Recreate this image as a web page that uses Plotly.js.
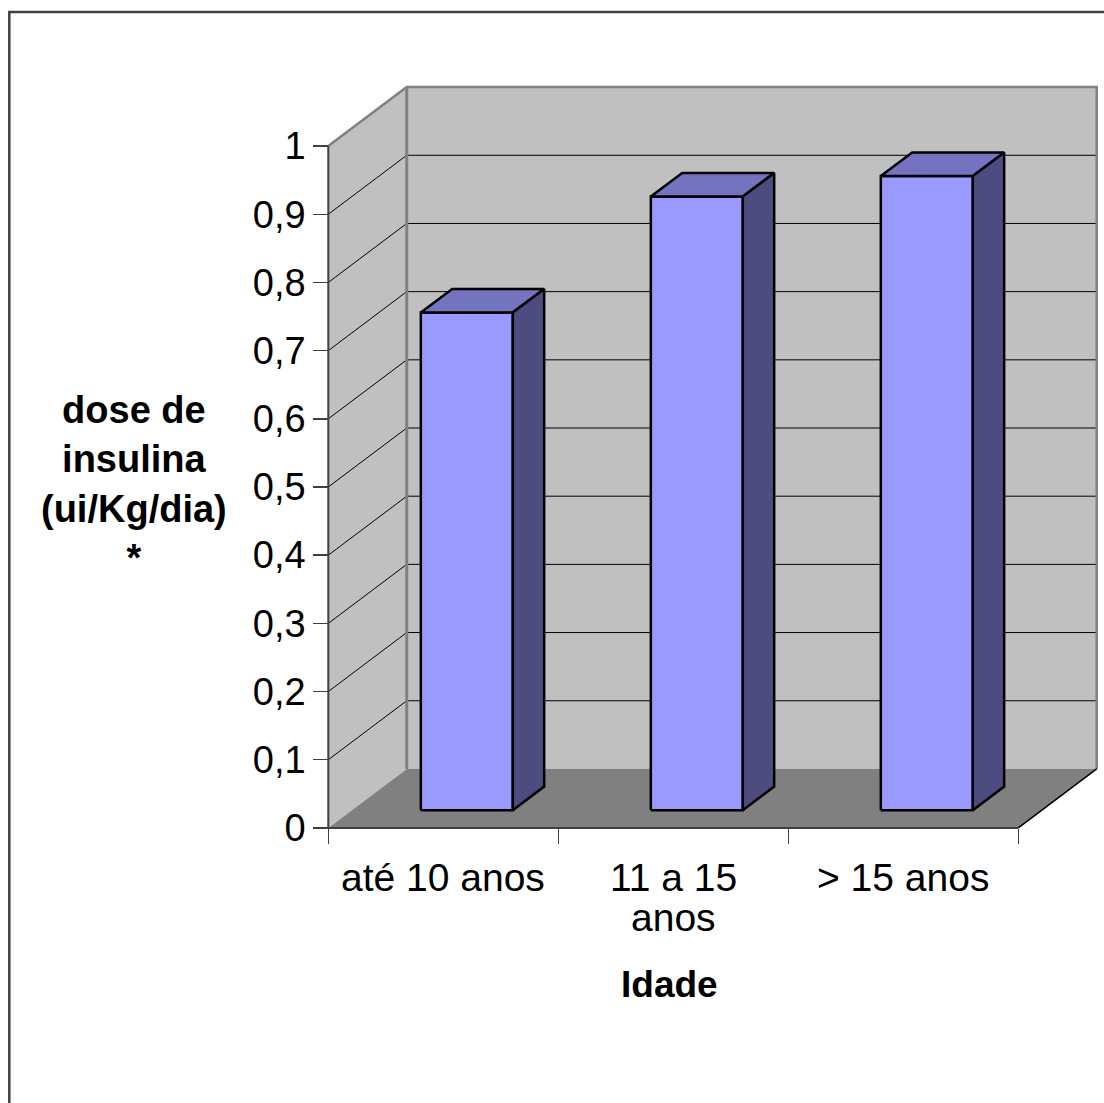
<!DOCTYPE html>
<html>
<head>
<meta charset="utf-8">
<script src="https://cdn.plot.ly/plotly-3.0.1.min.js"></script>
<style>
  html, body { margin: 0; padding: 0; background: #ffffff; }
  #chart { width: 1104px; height: 1103px; }
</style>
</head>
<body>
<div id="chart"></div>
<script>
// Data
const categories = ['até 10 anos', '11 a 15<br>anos', '> 15 anos'];
const doses = [0.73, 0.90, 0.93];
const yTicks = [0, 0.1, 0.2, 0.3, 0.4, 0.5, 0.6, 0.7, 0.8, 0.9, 1];
const yTitle = 'dose de<br>insulina<br>(ui/Kg/dia)<br>*';
const xTitle = 'Idade';

// 3D look: depth of the box (back wall offset) in axis units
const DX = 0.341, DY = 0.0865;
const BAR_FRONT = 0.3, BAR_DEPTH = 0.4;   // bar position along the depth
const BAR_GAP = 0.3, BAR_W = 0.4;         // bar position inside a category
const N = categories.length;
const YMAX = yTicks[yTicks.length - 1];

// page geometry
const W = 1104, H = 1103;
const X0PX = 328, UX = 230, Y0PX = 828, UY = 682;
const PADX = 0.01, PADY = 0.006;
const xr = [-PADX, N + DX + PADX];
const yr = [-PADY, YMAX + DY + PADY];
const margin = {
  l: X0PX - PADX * UX,
  r: W - (X0PX + xr[1] * UX),
  t: Y0PX - yr[1] * UY,
  b: H - (Y0PX + PADY * UY),
  pad: 0
};
const plotW = W - margin.l - margin.r, plotH = H - margin.t - margin.b;
const paperX = px => (px - margin.l) / plotW;
const paperY = py => (H - margin.b - py) / plotH;

const FONT = 'Liberation Sans, Arial, sans-serif';
const WALL = '#c0c0c0', FLOOR = '#808080', EDGE = '#808080', AXIS = '#404040';
const FRONT = '#9999ff', TOP = '#7373bf', SIDE = '#4c4c80';

function poly(xs, ys, fill, lineColor, lineWidth) {
  return {
    type: 'scatter', mode: 'lines', x: xs, y: ys,
    fill: fill ? 'toself' : 'none', fillcolor: fill || undefined,
    line: { color: lineColor || 'rgba(0,0,0,0)', width: lineWidth || 0 },
    hoverinfo: 'skip', showlegend: false
  };
}

const traces = [];

// walls
traces.push(poly([0, DX, DX, 0, 0], [0, DY, YMAX + DY, YMAX, 0], WALL));
traces.push(poly([DX, N + DX, N + DX, DX, DX], [DY, DY, YMAX + DY, YMAX + DY, DY], WALL));

// gridlines on side wall and back wall
const gx = [], gy = [];
yTicks.forEach(t => {
  if (t > 0 && t < YMAX) {
    gx.push(0, DX, N + DX, null);
    gy.push(t, t + DY, t + DY, null);
  }
});
traces.push(poly(gx, gy, null, '#000000', 1));

// floor
traces.push(poly([0, N, N + DX, DX, 0], [0, 0, DY, DY, 0], FLOOR));

// wall edges
traces.push(poly([0, DX, N + DX, N + DX], [YMAX, YMAX + DY, YMAX + DY, DY], null, EDGE, 2.5));
traces.push(poly([DX, DX], [DY, YMAX + DY], null, EDGE, 3));
traces.push(poly([N, N + DX], [0, DY], null, '#000000', 1.5));

// value axis and category axis lines
traces.push(poly([0, 0, N], [YMAX, 0, 0], null, AXIS, 2));

// 3D bars: front, top and side faces
doses.forEach((v, i) => {
  const x0 = i + BAR_GAP + BAR_FRONT * DX, x1 = x0 + BAR_W;
  const y0 = BAR_FRONT * DY, y1 = y0 + v;
  const ddx = BAR_DEPTH * DX, ddy = BAR_DEPTH * DY;
  traces.push(poly([x0, x1, x1, x0, x0], [y0, y0, y1, y1, y0], FRONT, '#000000', 2.5));
  traces.push(poly([x0, x1, x1 + ddx, x0 + ddx, x0], [y1, y1, y1 + ddy, y1 + ddy, y1], TOP, '#000000', 2.5));
  traces.push(poly([x1, x1 + ddx, x1 + ddx, x1, x1], [y0, y0 + ddy, y1 + ddy, y1, y0], SIDE, '#000000', 2.5));
});

// carrier trace for the tick axes
traces.push({ type: 'scatter', mode: 'lines', x: [null], y: [null], xaxis: 'x2', yaxis: 'y2', hoverinfo: 'skip', showlegend: false });

// annotations: category labels, axis titles
const annotations = [];
categories.forEach((c, i) => {
  c.split('<br>').forEach((line, j) => {
    annotations.push({
      xref: 'x', yref: 'y', x: i + 0.5, y: 0, yshift: -(50 + 40 * j),
      text: line, showarrow: false, yanchor: 'middle', xanchor: 'center',
      font: { family: FONT, size: 39, color: '#000000' }
    });
  });
});
annotations.push({
  xref: 'x', yref: 'y', x: N / 2, y: 0, xshift: -4, yshift: -157,
  text: '<b>' + xTitle + '</b>', showarrow: false, yanchor: 'middle', xanchor: 'center',
  font: { family: FONT, size: 37, color: '#000000' }
});
annotations.push({
  xref: 'x', yref: 'y', x: 0, y: 0, xshift: -194, yshift: Y0PX - 484,
  text: '<b>' + yTitle + '</b>', showarrow: false, yanchor: 'middle', xanchor: 'center', align: 'center',
  font: { family: FONT, size: 38, color: '#000000' }
});

const hidden = { showgrid: false, zeroline: false, showline: false, showticklabels: false, ticks: '', fixedrange: true };

const layout = {
  width: W, height: H, margin: margin,
  paper_bgcolor: '#ffffff', plot_bgcolor: 'rgba(0,0,0,0)',
  separators: ',.',
  showlegend: false,
  font: { family: FONT, color: '#000000' },
  xaxis: Object.assign({ range: xr }, hidden),
  yaxis: Object.assign({ range: yr }, hidden),
  xaxis2: {
    overlaying: 'x', anchor: 'free', position: PADY / (yr[1] - yr[0]), range: xr,
    tickmode: 'array', tickvals: categories.map((c, i) => i).concat([N]),
    ticks: 'outside', ticklen: 15, tickwidth: 1.5, tickcolor: AXIS,
    showticklabels: false, showgrid: false, zeroline: false, showline: false, fixedrange: true
  },
  yaxis2: {
    overlaying: 'y', anchor: 'free', position: PADX / (xr[1] - xr[0]), side: 'left', range: yr,
    tickmode: 'array', tickvals: yTicks, ticktext: yTicks.map(t => String(t).replace('.', ',')),
    ticks: 'outside', ticklen: 15, tickwidth: 1.5, tickcolor: AXIS,
    tickfont: { family: FONT, size: 38, color: '#000000' },
    showgrid: false, zeroline: false, showline: false, fixedrange: true
  },
  shapes: [{
    type: 'rect', xref: 'paper', yref: 'paper',
    x0: paperX(9), y0: paperY(12), x1: paperX(1125), y1: paperY(1125),
    line: { color: AXIS, width: 2.5 }, fillcolor: 'rgba(0,0,0,0)', layer: 'below'
  }],
  annotations: annotations
};

Plotly.newPlot('chart', traces, layout, { staticPlot: true, displayModeBar: false });
</script>
</body>
</html>
